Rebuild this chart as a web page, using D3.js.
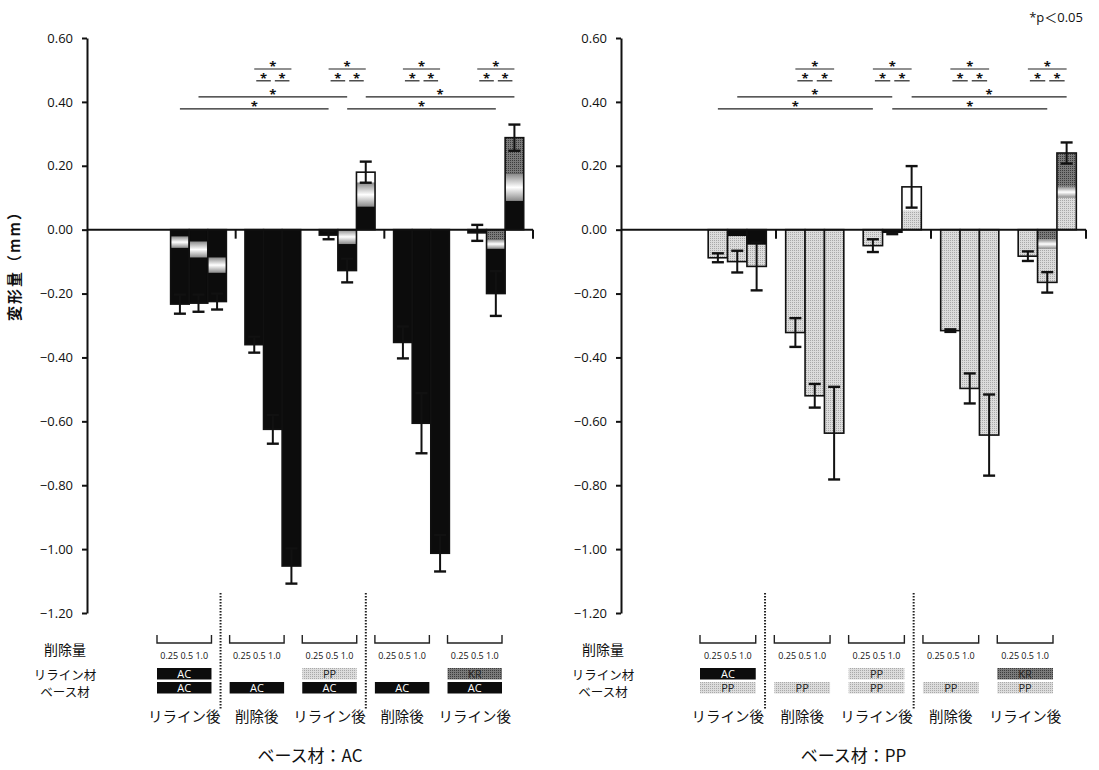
<!DOCTYPE html>
<html>
<head>
<meta charset="utf-8">
<title>変形量</title>
<script src="https://cdn.jsdelivr.net/npm/d3@7"></script>
<style>
 body { margin: 0; background: #fff; }
 svg text { font-family: "Open Sans", "Noto Sans CJK JP", sans-serif; fill: #111; }
 svg .jp { font-family: "Noto Sans CJK JP", sans-serif; }
</style>
</head>
<body>
<svg id="chart" width="1099" height="770"></svg>
<script>
// groups along x: after reline / after removal ...
var groupLabels = ['リライン後', '削除後', 'リライン後', '削除後', 'リライン後'];
var amountText = '0.25 0.5 1.0';
var yTicks = [0.6, 0.4, 0.2, 0, -0.2, -0.4, -0.6, -0.8, -1.0, -1.2];

// base material AC
var acMeans = [[-0.233, -0.230, -0.225], [-0.360, -0.625, -1.053], [-0.017, -0.128, 0.180], [-0.353, -0.606, -1.013], [-0.010, -0.200, 0.288]];
var acSD    = [[0.030, 0.027, 0.025], [0.025, 0.045, 0.055], [0.013, 0.037, 0.033], [0.050, 0.094, 0.057], [0.025, 0.070, 0.041]];
// bands inside each bar: [from, to, material]
var acBands = [
  [[[-0.021, -0.057, 'F']], [[-0.037, -0.087, 'F']], [[-0.087, -0.135, 'F']]],
  [[], [], []],
  [[], [[0, -0.045, 'F']], [[0.072, 0.147, 'F'], [0.147, 0.18, 'W']]],
  [[], [], []],
  [[], [[0, -0.03, 'KR'], [-0.03, -0.06, 'F']], [[0.09, 0.175, 'F'], [0.175, 0.288, 'KR']]]
];
var acReline = ['AC', null, 'PP', null, 'KR'];
var acBase   = ['AC', 'AC', 'AC', 'AC', 'AC'];

// base material PP
var ppMeans = [[-0.088, -0.100, -0.115], [-0.322, -0.520, -0.637], [-0.050, -0.008, 0.134], [-0.316, -0.497, -0.643], [-0.083, -0.165, 0.240]];
var ppSD    = [[0.014, 0.034, 0.075], [0.045, 0.037, 0.145], [0.020, 0.006, 0.065], [0.004, 0.047, 0.127], [0.015, 0.032, 0.033]];
var ppBands = [
  [[], [[0, -0.02, 'AC']], [[0, -0.047, 'AC']]],
  [[], [], []],
  [[], [[0, -0.008, 'AC']], [[0.06, 0.134, 'W']]],
  [[], [], []],
  [[], [[0, -0.03, 'KR'], [-0.03, -0.06, 'F']], [[0.1, 0.135, 'F'], [0.135, 0.24, 'KR']]]
];
var ppReline = ['AC', null, 'PP', null, 'KR'];
var ppBase   = ['PP', 'PP', 'PP', 'PP', 'PP'];

// significance: [group, bar] - [group, bar], row
var sigPairs = [
  [[1, 0], [1, 2], 0], [[2, 0], [2, 2], 0], [[3, 0], [3, 2], 0], [[4, 0], [4, 2], 0],
  [[1, 0], [1, 1], 1], [[1, 1], [1, 2], 1], [[2, 0], [2, 1], 1], [[2, 1], [2, 2], 1],
  [[3, 0], [3, 1], 1], [[3, 1], [3, 2], 1], [[4, 0], [4, 1], 1], [[4, 1], [4, 2], 1],
  [[0, 1], [2, 1], 2], [[2, 2], [4, 2], 2],
  [[0, 0], [2, 0], 3], [[2, 1], [4, 1], 3]
];
var sigLevels = [0.503, 0.466, 0.416, 0.378];

var svg = d3.select('#chart');
var defs = svg.append('defs');

function dotPattern(id, bg, dot) {
  var p = defs.append('pattern').attr('id', id).attr('width', 2).attr('height', 2)
    .attr('patternUnits', 'userSpaceOnUse');
  p.append('rect').attr('width', 2).attr('height', 2).attr('fill', bg);
  p.append('rect').attr('width', 1).attr('height', 1).attr('fill', dot);
}
dotPattern('pp', '#dcdcdc', '#a9a9a9');
dotPattern('kr', '#7a7a7a', '#3c3c3c');
var grad = defs.append('linearGradient').attr('id', 'fade')
  .attr('x1', 0).attr('y1', 0).attr('x2', 0).attr('y2', 1);
grad.append('stop').attr('offset', '0').attr('stop-color', '#8a8a8a');
grad.append('stop').attr('offset', '0.5').attr('stop-color', '#ffffff');
grad.append('stop').attr('offset', '1').attr('stop-color', '#8a8a8a');

var fills = { AC: '#0c0c0c', PP: 'url(#pp)', KR: 'url(#kr)', F: 'url(#fade)', W: '#ffffff' };
var boxText = { AC: '#fff', PP: '#222', KR: '#222' };

var y = d3.scaleLinear().domain([-1.2, 0.6]).range([613, 38]);

svg.append('text').attr('x', 1083).attr('y', 22).attr('text-anchor', 'end')
  .style('font-size', '13px').text('*p＜0.05');

var charts = [
  { means: acMeans, sd: acSD, bands: acBands, base: 'AC', reline: acReline, baseRow: acBase,
    title: 'ベース材：AC', x: [87, 533], table: [157, 502], labelX: 65, ylabel: true },
  { means: ppMeans, sd: ppSD, bands: ppBands, base: 'PP', reline: ppReline, baseRow: ppBase,
    title: 'ベース材：PP', x: [621, 1086], table: [700, 1053], labelX: 603, ylabel: false }
];

charts.forEach(function(c) {
  var g = svg.append('g');
  var x0 = d3.scaleBand().domain(d3.range(-1, 5)).range(c.x).paddingInner(0.25).paddingOuter(0.125);
  var x1 = d3.scaleBand().domain([0, 1, 2]).range([0, x0.bandwidth()]);
  var bw = x1.bandwidth();
  var cx = function(gi, bi) { return x0(gi) + x1(bi) + bw / 2; };

  // bars
  c.means.forEach(function(row, gi) {
    row.forEach(function(v, bi) {
      var bx = x0(gi) + x1(bi);
      var bar = g.append('g');
      bar.append('rect').attr('x', bx).attr('width', bw)
        .attr('y', y(Math.max(v, 0))).attr('height', Math.abs(y(v) - y(0)))
        .attr('fill', fills[c.base]);
      c.bands[gi][bi].forEach(function(b) {
        bar.append('rect').attr('x', bx).attr('width', bw)
          .attr('y', y(Math.max(b[0], b[1]))).attr('height', Math.abs(y(b[0]) - y(b[1])))
          .attr('fill', fills[b[2]]);
      });
      bar.append('rect').attr('x', bx).attr('width', bw)
        .attr('y', y(Math.max(v, 0))).attr('height', Math.abs(y(v) - y(0)))
        .attr('fill', 'none').attr('stroke', '#111').attr('stroke-width', 1.6);
      var e = c.sd[gi][bi], mx = bx + bw / 2;
      bar.append('line').attr('x1', mx).attr('x2', mx).attr('y1', y(v - e)).attr('y2', y(v + e))
        .attr('stroke', '#111').attr('stroke-width', 2);
      [v - e, v + e].forEach(function(t) {
        bar.append('line').attr('x1', mx - 6).attr('x2', mx + 6).attr('y1', y(t)).attr('y2', y(t))
          .attr('stroke', '#111').attr('stroke-width', 2.4);
      });
    });
  });

  // zero line with section ticks
  g.append('line').attr('x1', c.x[0]).attr('x2', c.x[1]).attr('y1', y(0)).attr('y2', y(0))
    .attr('stroke', '#111').attr('stroke-width', 2);
  var half = x0.step() * x0.paddingInner() / 2;
  [x0(1) - half, x0(3) - half, c.x[1]].forEach(function(tx) {
    g.append('line').attr('x1', tx).attr('x2', tx).attr('y1', y(0)).attr('y2', y(0) + 9)
      .attr('stroke', '#111').attr('stroke-width', 2);
  });

  // y axis
  var ax = g.append('g').attr('transform', 'translate(' + c.x[0] + ',0)')
    .call(d3.axisLeft(y).tickValues(yTicks).tickFormat(d3.format('.2f')).tickSize(5).tickSizeOuter(0).tickPadding(9));
  ax.select('.domain').attr('stroke', '#111').attr('stroke-width', 2);
  ax.selectAll('.tick line').attr('stroke', '#111').attr('stroke-width', 2);
  ax.selectAll('.tick text').style('font-size', '13px').attr('fill', '#111');

  // significance brackets
  sigPairs.forEach(function(s) {
    var inset = s[2] === 1 ? 2 : 0;
    var xa = cx(s[0][0], s[0][1]) + inset, xb = cx(s[1][0], s[1][1]) - inset;
    var ly = y(sigLevels[s[2]]);
    g.append('line').attr('x1', xa).attr('x2', xb).attr('y1', ly).attr('y2', ly)
      .attr('stroke', '#222').attr('stroke-width', 1.2);
    g.append('text').attr('x', (xa + xb) / 2).attr('y', ly + 2).attr('text-anchor', 'middle')
      .style('font-size', '13px').style('font-weight', 'bold').text('*');
  });

  // table under chart
  var t = d3.scaleBand().domain(d3.range(5)).range(c.table).paddingInner(0.25);
  var tw = t.bandwidth();
  var th = t.step() * t.paddingInner() / 2;
  [t(1) - th, t(3) - th].forEach(function(dx) {
    g.append('line').attr('x1', dx).attr('x2', dx).attr('y1', 593).attr('y2', 710)
      .attr('stroke', '#222').attr('stroke-width', 2).attr('stroke-dasharray', '1.5,1.5');
  });
  groupLabels.forEach(function(lbl, i) {
    var tx = t(i), mid = tx + tw / 2;
    g.append('path').attr('d', 'M' + tx + ',635V643H' + (tx + tw) + 'V635')
      .attr('fill', 'none').attr('stroke', '#222').attr('stroke-width', 1.4);
    g.append('text').attr('x', mid).attr('y', 659).attr('text-anchor', 'middle')
      .style('font-size', '9px').text(amountText);
    [[c.reline[i], 668], [c.baseRow[i], 682]].forEach(function(m) {
      if (!m[0]) return;
      g.append('rect').attr('x', tx).attr('y', m[1]).attr('width', tw).attr('height', 11.5)
        .attr('fill', fills[m[0]]);
      g.append('text').attr('x', mid).attr('y', m[1] + 10).attr('text-anchor', 'middle')
        .style('font-size', '11px').style('fill', boxText[m[0]]).text(m[0]);
    });
    g.append('text').attr('class', 'jp').attr('x', mid).attr('y', 722).attr('text-anchor', 'middle')
      .style('font-size', '14.5px').text(lbl);
  });
  g.append('text').attr('class', 'jp').attr('x', c.labelX).attr('y', 655).attr('text-anchor', 'middle')
    .style('font-size', '14px').text('削除量');
  g.append('text').attr('class', 'jp').attr('x', c.labelX).attr('y', 680).attr('text-anchor', 'middle')
    .style('font-size', '12.5px').text('リライン材');
  g.append('text').attr('class', 'jp').attr('x', c.labelX).attr('y', 697).attr('text-anchor', 'middle')
    .style('font-size', '12.5px').text('ベース材');
  g.append('text').attr('class', 'jp').attr('x', (c.x[0] + c.x[1]) / 2).attr('y', 762)
    .attr('text-anchor', 'middle').style('font-size', '17px').text(c.title);

  if (c.ylabel) {
    g.append('text').attr('class', 'jp').attr('transform', 'translate(20,262) rotate(-90)')
      .attr('text-anchor', 'middle').style('font-size', '15px').style('font-weight', 'bold')
      .style('letter-spacing', '2px').text('変形量（mm）');
  }
});
</script>
</body>
</html>
